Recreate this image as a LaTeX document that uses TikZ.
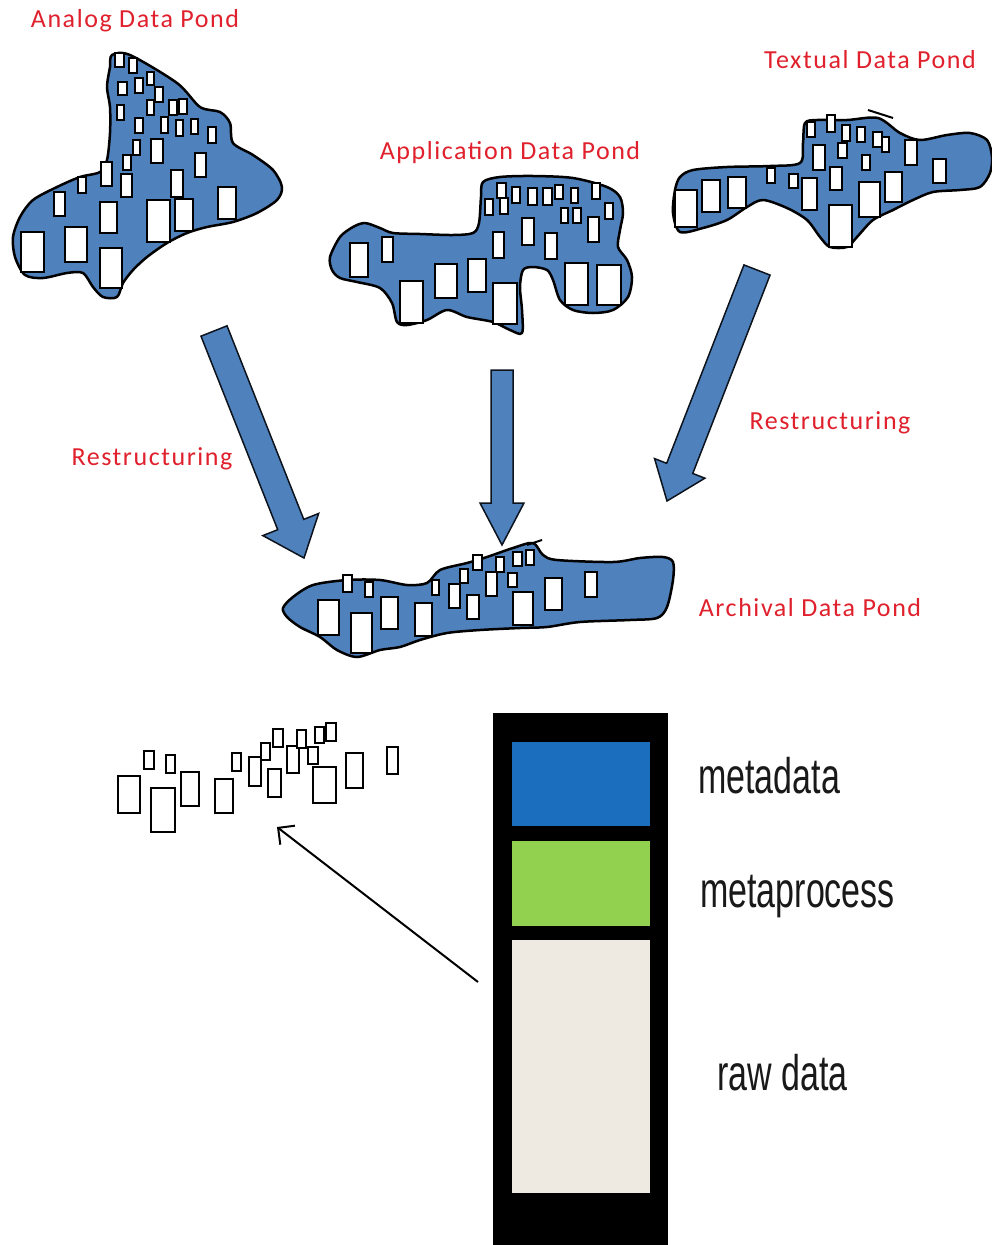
\documentclass[tikz,border=0pt]{standalone}
\usepackage{fontspec}
\usetikzlibrary{calc,arrows.meta}
\newfontfamily\lblfont[LetterSpace=6]{Carlito}
\newfontfamily\barfont{Liberation Sans}
\definecolor{pondblue}{HTML}{4F81BD}
\definecolor{lblred}{HTML}{E0202C}
\definecolor{metablue}{HTML}{1A6EBD}
\definecolor{metagreen}{HTML}{92D050}
\definecolor{rawbeige}{HTML}{EEEAE2}

% block arrow: start, end, half shaft width, half head width, head length
\newcommand{\blockarrow}[5]{%
  \coordinate (ba-h) at ($(#2)!#5!(#1)$);
  \path[blockarrowstyle]
    ($(#1)!#3!90:(#2)$) -- ($(ba-h)!#3!-90:(#1)$) -- ($(ba-h)!#4!-90:(#1)$)
    -- (#2) -- ($(ba-h)!#4!90:(#1)$) -- ($(ba-h)!#3!90:(#1)$)
    -- ($(#1)!#3!-90:(#2)$) -- cycle;}

\begin{document}
\begin{tikzpicture}[x=1pt,y=-1pt,
  pond/.style={fill=pondblue, draw=black, line width=2.5pt, line join=round},
  cell/.style={fill=white, draw=black, line width=1.8pt},
  loosecell/.style={fill=white, draw=black, line width=1.5pt},
  blockarrowstyle/.style={fill=pondblue, draw=black!85!pondblue, line width=1.5pt, line join=miter},
  pondlabel/.style={text=lblred, font=\lblfont\fontsize{26}{30}\selectfont, anchor=base, inner sep=0pt},
  barlabel/.style={text=black!90, font=\barfont\fontsize{50}{60}\selectfont, anchor=base west, inner sep=0pt}]

\useasboundingbox (0,0) rectangle (991,1245);
\fill[white] (0,0) rectangle (991,1245);

% ---------- Analog data pond ----------
\draw[pond] plot[smooth cycle, tension=0.5] coordinates {(112,55) (130,55) (177,83) (200,107) (220,112) (230,123) (233,143) (253,155) (273,170) (282,187) (277,200) (257,213) (233,222) (207,227) (187,233) (167,243) (147,257) (133,270) (123,283) (117,297) (103,297) (93,287) (83,273) (67,273) (43,278) (25,275) (15,257) (13,237) (20,217) (33,200) (57,187) (80,177) (100,172) (107,160) (110,133) (110,107) (107,87) (110,67)};
\foreach \a/\b/\c/\d in {115/53/124/67, 129/58/137/73, 118/82/127/95, 135/78/143/93, 147/72/154/85, 155/87/163/102, 117/105/124/120, 147/100/154/115, 169/100/177/115, 179/99/187/114, 135/118/143/133, 161/117/168/133, 176/120/183/136, 191/119/198/134, 208/127/216/143, 133/140/140/155, 151/139/163/163, 195/153/206/177, 123/155/131/170, 101/162/112/186, 78/177/86/193, 121/174/132/197, 171/170/183/197, 54/192/65/216, 100/202/117/233, 147/200/170/242, 175/199/193/231, 218/187/236/219, 21/232/44/272, 65/227/87/262, 100/248/122/288}
  \draw[cell] (\a,\b) rectangle (\c,\d);

% ---------- Application data pond ----------
\draw[pond] plot[smooth cycle, tension=0.5] coordinates {(330,257) (340,237) (353,227) (365,223) (380,228) (393,233) (420,234) (453,235) (473,233) (479,223) (481,197) (483,182) (500,177) (533,176) (573,178) (607,187) (620,197) (623,213) (620,230) (618,247) (627,260) (632,277) (628,297) (613,310) (593,313) (573,310) (560,300) (553,280) (547,270) (533,267) (523,270) (520,287) (522,310) (522,333) (510,330) (493,322) (467,317) (447,310) (427,320) (407,325) (397,322) (392,303) (380,288) (357,282) (340,278) (332,270)};
\foreach \a/\b/\c/\d in {497/183/506/198, 512/187/520/203, 528/188/537/205, 543/188/552/205, 555/185/563/199, 571/188/578/203, 592/183/600/199, 485/199/493/215, 500/198/508/214, 561/208/568/223, 573/208/581/223, 605/203/613/219, 522/218/534/245, 588/217/599/242, 493/232/504/258, 545/233/557/259, 382/237/393/262, 350/243/368/277, 468/259/486/292, 435/264/457/298, 400/281/423/323, 493/283/517/324, 565/263/588/305, 597/265/621/305}
  \draw[cell] (\a,\b) rectangle (\c,\d);

% ---------- Textual data pond ----------
\draw[pond] plot[smooth cycle, tension=0.5] coordinates {(675,190) (680,177) (693,170) (727,167) (770,166) (800,163) (803,143) (805,123) (817,120) (847,120) (878,118) (900,133) (920,140) (947,135) (970,133) (987,140) (992,157) (990,173) (980,187) (960,190) (933,192) (913,200) (893,210) (873,220) (857,237) (847,247) (830,247) (820,237) (807,220) (787,208) (763,200) (747,207) (727,220) (703,228) (680,232) (673,213)};
\draw[line width=2pt] (868,110) -- (893,118);
\foreach \a/\b/\c/\d in {807/122/815/137, 827/115/835/132, 842/125/850/141, 857/127/865/142, 873/132/882/147, 882/137/889/152, 838/143/847/158, 813/145/825/170, 905/140/917/165, 862/155/870/170, 933/159/946/183, 767/168/775/183, 789/174/798/188, 830/167/842/190, 885/172/902/202, 728/177/746/208, 702/180/720/212, 802/178/817/210, 859/182/880/217, 675/190/697/227, 829/205/852/247}
  \draw[cell] (\a,\b) rectangle (\c,\d);

% ---------- Archival data pond ----------
\draw[pond] plot[smooth cycle, tension=0.5] coordinates {(283,608) (293,597) (313,585) (347,580) (380,580) (407,585) (427,583) (440,570) (467,563) (487,557) (513,548) (533,543) (543,555) (557,560) (613,562) (640,558) (663,557) (673,562) (673,580) (667,607) (657,618) (630,620) (580,622) (547,627) (520,628) (480,630) (447,633) (420,640) (400,647) (380,650) (357,657) (337,650) (320,637) (300,627) (287,617)};
\draw[line width=2pt] (527,545) -- (542,540);
\foreach \a/\b/\c/\d in {343/575/352/592, 365/582/373/597, 432/580/439/595, 460/569/468/583, 473/555/482/570, 496/557/504/572, 513/552/522/566, 526/550/534/565, 508/573/517/587, 486/572/497/596, 449/584/460/608, 467/595/479/619, 545/578/562/610, 585/572/597/597, 381/597/398/629, 415/603/432/636, 318/600/339/635, 351/613/372/653, 513/592/533/625}
  \draw[cell] (\a,\b) rectangle (\c,\d);

% ---------- restructuring arrows ----------
\coordinate (la-s) at (214,331); \coordinate (la-e) at (304,558);
\coordinate (ma-s) at (502,370); \coordinate (ma-e) at (502,545);
\coordinate (ra-s) at (757,270); \coordinate (ra-e) at (667,501);
\blockarrow{la-s}{la-e}{14pt}{30pt}{36pt}
\blockarrow{ma-s}{ma-e}{11pt}{22pt}{42pt}
\blockarrow{ra-s}{ra-e}{14pt}{27pt}{35pt}

% ---------- labels ----------
\node[pondlabel] (analog) at (135,27) {Analog Data Pond};
\node[pondlabel] (application) at (510,159) {Application Data Pond};
\node[pondlabel] (textual) at (870,68) {Textual Data Pond};
\node[pondlabel] (restr-l) at (152,465) {Restructuring};
\node[pondlabel] (restr-r) at (830,429) {Restructuring};
\node[pondlabel] (archival) at (810,616) {Archival Data Pond};

% ---------- loose data items ----------
\foreach \a/\b/\c/\d in {118/776/140/813, 144/751/154/769, 166/755/175/773, 151/788/175/832, 181/772/199/806, 215/779/233/813, 232/753/241/771, 249/757/261/786, 261/743/270/760, 273/729/283/747, 268/769/281/797, 287/746/299/773, 297/730/306/748, 308/747/318/764, 315/727/324/743, 326/723/336/741, 313/767/336/803, 346/753/363/788, 387/747/398/774}
  \draw[loosecell] (\a,\b) rectangle (\c,\d);

% ---------- data item structure bar ----------
\fill[black] (493,713) rectangle (668,1245);
\fill[metablue] (512,742) rectangle (650,826);
\fill[metagreen] (512,841) rectangle (650,926);
\fill[rawbeige] (512,940) rectangle (650,1193);

\node[barlabel] (meta) at (698,793) {\scalebox{0.68}[1]{metadata}};
\node[barlabel] (metaproc) at (700,907) {\scalebox{0.68}[1]{metaprocess}};
\node[barlabel] (raw) at (717,1090) {\scalebox{0.68}[1]{raw data}};

% ---------- pointer from raw data to the loose items ----------
\coordinate (rawtail) at (478,982);
\coordinate (cluster) at (277,827);
\draw[line width=2pt, -{Straight Barb[length=12pt,width=24pt,line width=2pt]}] (rawtail) -- (cluster);

\end{tikzpicture}
\end{document}
